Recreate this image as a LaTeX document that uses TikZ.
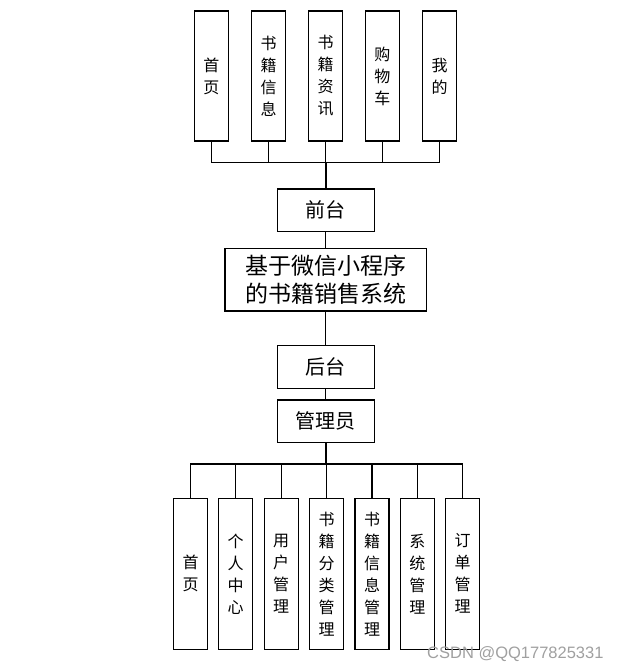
\documentclass[tikz,border=0pt]{standalone}
\usepackage{fontspec}
\setmainfont{Noto Sans CJK SC}
\newfontfamily\wmfont{Liberation Sans}
\usepackage{tikz}
\definecolor{ink}{HTML}{000000}
\definecolor{wmgray}{HTML}{A0A0A0}

\begin{document}
\begin{tikzpicture}[
    x=1pt, y=-1pt,
    line cap=butt, line join=miter,
    wire/.style={ink, line width=1.3pt},
    trunk/.style={ink, line width=1.9pt},
    tallbox/.style={draw=ink, line width=1.3pt, inner sep=0pt, align=center,
                    minimum width=34pt, font=\fontsize{16pt}{22pt}\selectfont},
    topbox/.style={tallbox, minimum height=130pt},
    botbox/.style={tallbox, minimum height=151pt},
    midbox/.style={draw=ink, line width=1.3pt, inner sep=0pt, align=center,
                   minimum width=97pt, minimum height=42.5pt,
                   font=\fontsize{20pt}{24pt}\selectfont},
]
\useasboundingbox (0,0) rectangle (618,672);

% ============================================================
% Geometry constants
% ============================================================
\def\Xmid{325.7}
\def\Ytop{76}
\def\Ybot{573.8}

\coordinate (busF) at (\Xmid, 162.3);
\coordinate (busB) at (\Xmid, 464);

% Front-end pages
\node[topbox] (fHome)  at (211.3, \Ytop) {首\\页};
\node[topbox] (fInfo)  at (268.5, \Ytop) {书\\籍\\信\\息};
\node[topbox] (fNews)  at (\Xmid, \Ytop) {书\\籍\\资\\讯};
\node[topbox] (fCart)  at (382.3, \Ytop) {购\\物\\车};
\node[topbox] (fMine)  at (439.7, \Ytop) {我\\的};

% Centre column
\node[midbox] (front) at (\Xmid, 210.2) {前台};
\node[draw=ink, line width=1.3pt, inner sep=0pt, align=center,
      minimum width=201.7pt, minimum height=62.7pt,
      font=\fontsize{23pt}{28pt}\selectfont]
  (sys) at (\Xmid, 279.7) {基于微信小程序\\的书籍销售系统};
\node[midbox] (back)  at (\Xmid, 367.0) {后台};
\node[midbox] (admin) at (\Xmid, 421.2) {管理员};

% Admin pages
\node[botbox] (bHome) at (190.5, \Ybot) {首\\页};
\node[botbox] (bUser) at (235.7, \Ybot) {个\\人\\中\\心};
\node[botbox] (bAcct) at (281.2, \Ybot) {用\\户\\管\\理};
\node[botbox] (bCat)  at (326.5, \Ybot) {书\\籍\\分\\类\\管\\理};
\node[botbox] (bBook) at (372.0, \Ybot) {书\\籍\\信\\息\\管\\理};
\node[botbox] (bSys)  at (417.3, \Ybot) {系\\统\\管\\理};
\node[botbox] (bOrd)  at (462.7, \Ybot) {订\\单\\管\\理};

% ============================================================
% Connectors
% ============================================================
% top bus
\draw[wire] (fHome.south) |- (fMine.south |- busF) -- (fMine.south);
\draw[wire] (fInfo.south) -- (fInfo.south |- busF);
\draw[wire] (fNews.south) -- (fNews.south |- busF);
\draw[wire] (fCart.south) -- (fCart.south |- busF);
\draw[trunk] (busF) -- (front.north);

% centre column
\draw[wire] (front.south) -- (sys.north);
\draw[wire] (sys.south)   -- (back.north);
\draw[wire] (back.south)  -- (admin.north);

% bottom bus
\draw[trunk] (admin.south) -- (busB);
\draw[wire] (bHome.north) |- (bOrd.north |- busB) -- (bOrd.north);
\draw[wire] (bUser.north) -- (bUser.north |- busB);
\draw[wire] (bAcct.north) -- (bAcct.north |- busB);
\draw[wire] (bCat.north)  -- (bCat.north |- busB);
\draw[wire] (bBook.north) -- (bBook.north |- busB);
\draw[wire] (bSys.north)  -- (bSys.north |- busB);

% Watermark
\node[anchor=west, inner sep=0pt, text=wmgray, font=\wmfont\fontsize{16.5pt}{18pt}\selectfont]
  (mark) at (427, 654) {CSDN @QQ177825331};

\end{tikzpicture}
\end{document}
